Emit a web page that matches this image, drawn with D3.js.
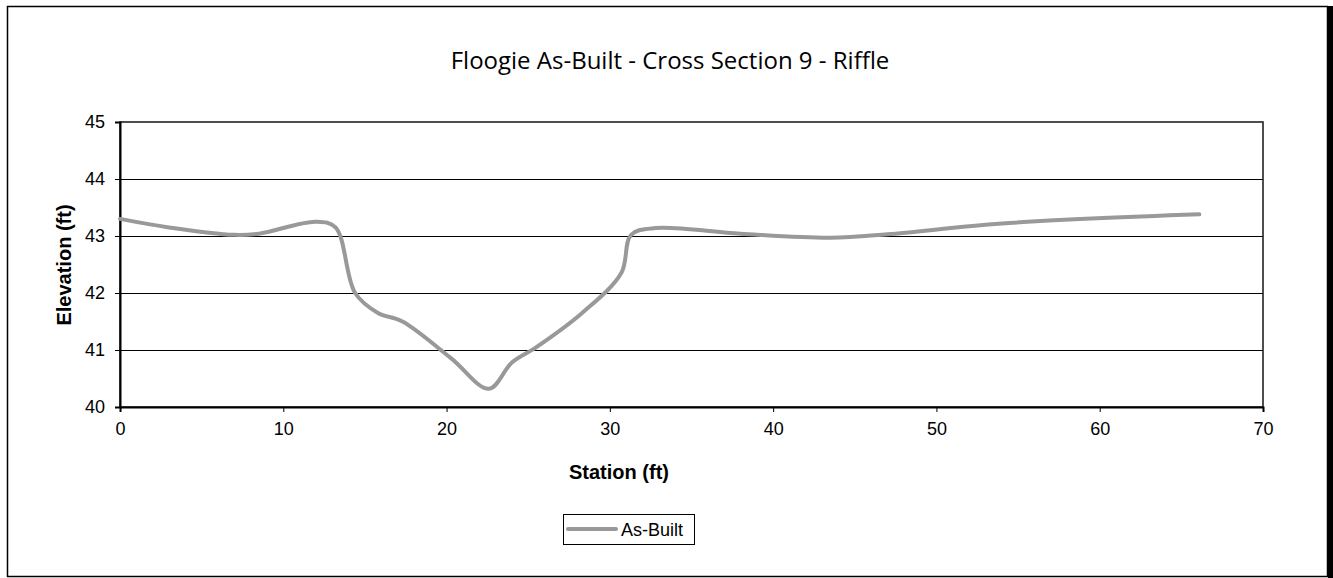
<!DOCTYPE html>
<html><head><meta charset="utf-8">
<script src="https://cdn.jsdelivr.net/npm/d3@7"></script>
<style>body{margin:0;background:#fff}svg{display:block}</style>
</head><body>
<svg id="c" width="1333" height="578"></svg>
<script>
const title = "Floogie As-Built - Cross Section 9 - Riffle";
const xLabel = "Station (ft)";
const yLabel = "Elevation (ft)";
const seriesName = "As-Built";
const station = [0, 3, 7, 8.5, 12, 13.2, 14.4, 15.8, 17.3, 20.3, 22.6, 24, 25.5, 28.3, 30.7, 31.3, 32.8, 38, 43.5, 47, 54, 66.1];
const elevation = [43.30, 43.15, 43.02, 43.04, 43.25, 43.15, 42.0, 41.65, 41.5, 40.85, 40.32, 40.78, 41.05, 41.65, 42.35, 43.02, 43.14, 43.04, 42.97, 43.03, 43.22, 43.38];
const xTicks = [0, 10, 20, 30, 40, 50, 60, 70];
const yTicks = [40, 41, 42, 43, 44, 45];

const svg = d3.select("#c");
const L = 120, R = 1263, T = 122, B = 407;
const x = d3.scaleLinear().domain([0, 70]).range([L, R]);
const y = d3.scaleLinear().domain([40, 45]).range([B, T]);
const SANS = "'Liberation Sans', Arial, sans-serif";

// outer frame
svg.append("rect").attr("x", 7.5).attr("y", 6.5).attr("width", 1320).attr("height", 570)
  .attr("fill", "#fff").attr("stroke", "#000").attr("stroke-width", 1.5);
svg.append("rect").attr("x", 1328).attr("y", 6).attr("width", 5).attr("height", 572).attr("fill", "#000");

// title
svg.append("text").attr("x", 670).attr("y", 69).attr("text-anchor", "middle")
  .attr("font-family", "'Open Sans', 'DejaVu Sans', sans-serif").attr("font-size", 24).attr("fill", "#000")
  .text(title);

// gridlines
svg.append("g").selectAll("line").data(yTicks.filter(d => d > 40 && d < 45)).join("line")
  .attr("x1", L).attr("x2", R).attr("y1", d => Math.round(y(d)) + 0.5).attr("y2", d => Math.round(y(d)) + 0.5)
  .attr("stroke", "#000").attr("stroke-width", 1);

// plot border
svg.append("rect").attr("x", L).attr("y", T).attr("width", R - L).attr("height", B - T)
  .attr("fill", "none").attr("stroke", "#222").attr("stroke-width", 1.6);

// axes
const yAxis = d3.axisLeft(y).tickValues(yTicks).tickSize(5).tickPadding(10).tickFormat(d3.format("d"));
const gy = svg.append("g").attr("transform", `translate(${L},0)`).call(yAxis);
const xAxis = d3.axisBottom(x).tickValues(xTicks).tickSize(5).tickPadding(10).tickFormat(d3.format("d"));
const gx = svg.append("g").attr("transform", `translate(0,${B})`).call(xAxis);
[gx, gy].forEach(g => {
  g.select(".domain").attr("stroke", "#000").attr("stroke-width", 2);
  g.selectAll(".tick line").attr("stroke", "#000");
  g.selectAll(".tick text").attr("font-family", SANS).attr("font-size", 18).attr("fill", "#000");
});

// axis titles
svg.append("text").attr("x", 619).attr("y", 479).attr("text-anchor", "middle")
  .attr("font-family", SANS).attr("font-weight", "bold").attr("font-size", 20)
  .text(xLabel);
svg.append("text").attr("transform", `translate(71,265) rotate(-90)`).attr("text-anchor", "middle")
  .attr("font-family", SANS).attr("font-weight", "bold").attr("font-size", 20)
  .text(yLabel);

// series
const data = station.map((s, i) => ({s, e: elevation[i]}));
const line = d3.line().x(d => x(d.s)).y(d => y(d.e)).curve(d3.curveCatmullRom.alpha(0.5));
svg.append("path").datum(data).attr("d", line).attr("fill", "none")
  .attr("stroke", "#999999").attr("stroke-width", 4).attr("stroke-linecap", "round").attr("stroke-linejoin", "round");

// legend
const lg = svg.append("g");
lg.append("rect").attr("x", 563.5).attr("y", 514.5).attr("width", 131).attr("height", 30)
  .attr("fill", "#fff").attr("stroke", "#000").attr("stroke-width", 1);
lg.append("line").attr("x1", 568).attr("x2", 616).attr("y1", 529).attr("y2", 529)
  .attr("stroke", "#999999").attr("stroke-width", 4).attr("stroke-linecap", "round");
lg.append("text").attr("x", 621).attr("y", 536)
  .attr("font-family", SANS).attr("font-size", 18).text(seriesName);
</script>
</body></html>
